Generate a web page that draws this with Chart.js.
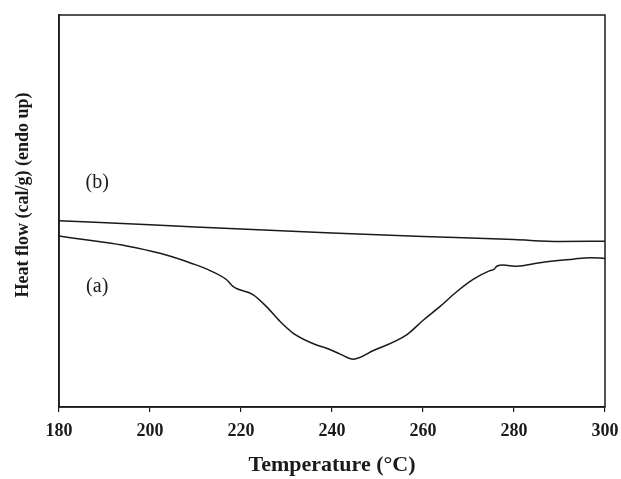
<!DOCTYPE html>
<html>
<head>
<meta charset="utf-8">
<script src="https://cdn.jsdelivr.net/npm/chart.js@4"></script>
<style>
  html, body { margin: 0; padding: 0; background: #ffffff; }
  #wrap { width: 621px; height: 479px; }
</style>
</head>
<body>
<div id="wrap"><canvas id="c" width="621" height="479"></canvas></div>
<script>
// ---- data ----
const xTickValues = [180, 200, 220, 240, 260, 280, 300];

const tempA = [180, 187.5, 194.9, 202.2, 209.5, 213.2, 216.9, 218.3, 222.7, 225.6, 228.6, 231.5, 236.6, 238.8, 241.8, 244.7, 249.1, 256.4, 260.1, 263.7, 267.4, 271.1, 274.7, 275.6, 276.2, 277.6, 280.6, 285.7, 293.0, 296.7, 300];
const heatA = [43.6, 42.4, 41.1, 39.2, 36.5, 34.8, 32.4, 30.7, 28.6, 25.6, 21.8, 18.8, 15.8, 15.0, 13.5, 12.2, 14.4, 18.4, 22.2, 25.6, 29.4, 32.6, 34.8, 35.1, 35.9, 36.2, 35.9, 36.8, 37.7, 38.1, 37.9];

const tempB = [180, 200, 220, 240, 260, 280, 290, 300];
const heatB = [47.5, 46.5, 45.4, 44.4, 43.5, 42.7, 42.2, 42.3];

const curveLabels = ["(a)", "(b)"];
const curveLabelX = [188.4, 188.4];
const curveLabelY = [30.6, 57.1];

const xTitle = "Temperature (\u00B0C)";
const yTitle = "Heat flow (cal/g) (endo up)";

// ---- build ----
const toPts = (xs, ys) => xs.map((x, i) => ({ x: x, y: ys[i] }));
const SERIF = '"Liberation Serif", "Times New Roman", serif';

const frame = {
  id: 'frame',
  afterDraw(chart) {
    const { ctx, chartArea: a } = chart;
    ctx.save();
    ctx.strokeStyle = '#1a1a1a';
    ctx.lineWidth = 1.5;
    ctx.strokeRect(a.left, a.top, a.right - a.left, a.bottom - a.top);
    ctx.restore();
  }
};

const curveText = {
  id: 'curveText',
  afterDatasetsDraw(chart) {
    const { ctx, scales } = chart;
    ctx.save();
    ctx.fillStyle = '#1a1a1a';
    ctx.font = '20px ' + SERIF;
    ctx.textAlign = 'center';
    ctx.textBaseline = 'middle';
    curveLabels.forEach((t, i) => {
      ctx.fillText(t, scales.x.getPixelForValue(curveLabelX[i]), scales.y.getPixelForValue(curveLabelY[i]));
    });
    ctx.restore();
  }
};

// y-axis title, drawn a little above the axis centre as in the reference
const yTitlePlugin = {
  id: 'yTitlePlugin',
  afterDraw(chart) {
    const { ctx, chartArea: a } = chart;
    ctx.save();
    ctx.fillStyle = '#1a1a1a';
    ctx.font = 'bold 18px ' + SERIF;
    ctx.textAlign = 'center';
    ctx.textBaseline = 'middle';
    ctx.translate(23, (a.top + a.bottom) / 2 - 16);
    ctx.rotate(-Math.PI / 2);
    ctx.fillText(yTitle, 0, 0);
    ctx.restore();
  }
};

new Chart(document.getElementById('c'), {
  type: 'line',
  data: {
    datasets: [
      { label: '(a)', data: toPts(tempA, heatA), borderColor: '#1a1a1a', borderWidth: 1.5, pointRadius: 0, cubicInterpolationMode: 'monotone', fill: false },
      { label: '(b)', data: toPts(tempB, heatB), borderColor: '#1a1a1a', borderWidth: 1.5, pointRadius: 0, cubicInterpolationMode: 'monotone', fill: false }
    ]
  },
  options: {
    responsive: false,
    animation: false,
    devicePixelRatio: 1,
    layout: { padding: { top: 15, right: 16, left: 0, bottom: 0 } },
    plugins: { legend: { display: false }, tooltip: { enabled: false } },
    scales: {
      x: {
        type: 'linear',
        min: 180, max: 300,
        afterBuildTicks(scale) { scale.ticks = xTickValues.map(v => ({ value: v })); },
        afterFit(scale) { scale.height = 72; scale.paddingLeft = 0; scale.paddingRight = 0; },
        grid: { display: true, drawOnChartArea: false, drawTicks: true, tickLength: 5, color: '#1a1a1a', lineWidth: 1.2 },
        border: { display: true, color: '#1a1a1a', width: 1.5 },
        ticks: {
          color: '#1a1a1a', padding: 9, maxRotation: 0, autoSkip: false,
          font: { family: SERIF, size: 18, weight: 'bold' }
        },
        title: {
          display: true, text: xTitle, color: '#1a1a1a',
          font: { family: SERIF, size: 22, weight: 'bold' },
          padding: { top: 0, bottom: 0 }
        }
      },
      y: {
        type: 'linear',
        min: 0, max: 100,
        afterFit(scale) { scale.width = 59; scale.paddingTop = 0; scale.paddingBottom = 0; },
        grid: { display: false, drawTicks: false },
        border: { display: true, color: '#1a1a1a', width: 1.5 },
        ticks: { display: false },
        title: { display: false, text: yTitle }
      }
    }
  },
  plugins: [frame, curveText, yTitlePlugin]
});
</script>
</body>
</html>
